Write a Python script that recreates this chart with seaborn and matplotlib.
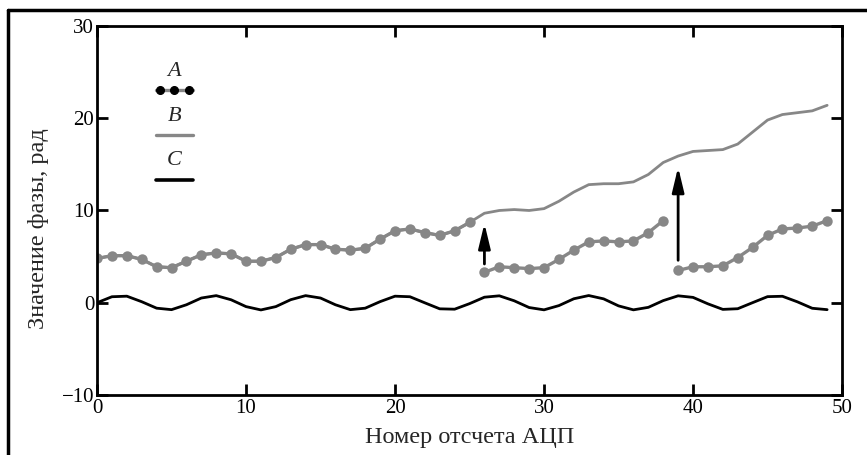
import numpy as np
import pandas as pd
import matplotlib
matplotlib.use("Agg")
import matplotlib.pyplot as plt
import seaborn as sns
from matplotlib.lines import Line2D

# ---------------- data ---------------- #
samples = list(range(50))

# A: wrapped phase (three segments with jumps at 26 and 39)
phase_a = [4.8, 5.1, 5.1, 4.7, 3.9, 3.8, 4.5, 5.2, 5.4, 5.3,
           4.5, 4.5, 4.9, 5.8, 6.3, 6.3, 5.8, 5.7, 5.9, 6.9,
           7.8, 8.0, 7.6, 7.3, 7.8, 8.7,
           3.3, 3.9, 3.8, 3.7, 3.8, 4.7, 5.7, 6.6, 6.7, 6.6,
           6.7, 7.6, 8.9,
           3.5, 3.9, 3.9, 4.0, 4.9, 6.0, 7.3, 8.0, 8.1, 8.3, 8.9]
segment_a = [0] * 26 + [1] * 13 + [2] * 11

# B: unwrapped phase
phase_b = [4.8, 5.1, 5.1, 4.7, 3.9, 3.8, 4.5, 5.2, 5.4, 5.3,
           4.5, 4.5, 4.9, 5.8, 6.3, 6.3, 5.8, 5.7, 5.9, 6.9,
           7.8, 8.0, 7.6, 7.3, 7.8, 8.7,
           9.7, 10.0, 10.1, 10.0, 10.2, 11.0, 12.0, 12.8, 12.9, 12.9,
           13.1, 13.9, 15.2,
           15.9, 16.4, 16.5, 16.6, 17.2, 18.5, 19.8, 20.4, 20.6, 20.8, 21.4]

# C: small oscillating phase
phase_c = [0.0, 0.65, 0.71, 0.11, -0.59, -0.75, -0.22, 0.51, 0.77, 0.32,
           -0.42, -0.78, -0.42, 0.33, 0.77, 0.51, -0.22, -0.75, -0.59, 0.12,
           0.71, 0.65, -0.01, -0.66, -0.70, -0.10, 0.60, 0.75, 0.21, -0.52,
           -0.77, -0.31, 0.43, 0.78, 0.42, -0.34, -0.77, -0.50, 0.23, 0.75,
           0.58, -0.12, -0.72, -0.65, 0.01, 0.66, 0.70, 0.10, -0.60, -0.75]

# arrows showing the 2*pi corrections
arrow_x = [26, 39]
arrow_from = [4.2, 4.6]
arrow_to = [8.6, 14.7]

x_ticks = [0, 10, 20, 30, 40, 50]
y_ticks = [-10, 0, 10, 20, 30]

df = pd.DataFrame({"n": samples, "A": phase_a, "seg": segment_a,
                   "B": phase_b, "C": phase_c})

# ---------------- style ---------------- #
sns.set_theme(style="ticks")
plt.rcParams["font.family"] = ["Liberation Serif", "DejaVu Serif"]

gray = "#878787"

fig = plt.figure(figsize=(8.67, 4.55), dpi=100)
ax = fig.add_axes([0.1119, 0.1319, 0.8593, 0.811])

sns.lineplot(data=df, x="n", y="C", color="black", lw=2.0, ax=ax)
sns.lineplot(data=df, x="n", y="B", color=gray, lw=2.0, ax=ax)
for s, part in df.groupby("seg"):
    sns.lineplot(data=part, x="n", y="A", color=gray, lw=2.4,
                 marker="o", markersize=7.5, markeredgewidth=0,
                 markerfacecolor=gray, ax=ax)

for x, y0, y1 in zip(arrow_x, arrow_from, arrow_to):
    ax.annotate("", xy=(x, y1), xytext=(x, y0),
                arrowprops=dict(arrowstyle="-|>,head_width=0.18,head_length=0.75",
                                color="black", lw=2.0, mutation_scale=20,
                                shrinkA=0, shrinkB=0))

# legend with the labels above the samples
lx = [0.079, 0.129]
ax.add_line(Line2D(lx, [0.827, 0.827], color=gray, lw=2.4, transform=ax.transAxes))
ax.plot([0.084, 0.104, 0.124], [0.827] * 3, "o", color="black", ms=5.5,
        transform=ax.transAxes)
ax.add_line(Line2D(lx, [0.705, 0.705], color=gray, lw=2.4, transform=ax.transAxes))
ax.add_line(Line2D(lx, [0.583, 0.583], color="black", lw=2.6, transform=ax.transAxes))
for lab, ly in zip(["A", "B", "C"], [0.877, 0.755, 0.635]):
    ax.text(0.104, ly, lab, transform=ax.transAxes, ha="center", va="center",
            fontsize=16, style="italic")

ax.set_xlim(0, 50)
ax.set_ylim(-10, 30)
ax.set_xticks(x_ticks)
ax.set_yticks(y_ticks)
ax.set_yticklabels(["\u221210", "0", "10", "20", "30"])
ax.tick_params(direction="in", length=8, width=2, labelsize=15, colors="black",
               top=True, right=True, pad=2)
ax.tick_params(axis="x", pad=3)
for sp in ax.spines.values():
    sp.set_visible(True)
    sp.set_linewidth(2)
    sp.set_color("black")

ax.set_xlabel("Номер отсчета АЦП", fontsize=17.5)
ax.set_ylabel("Значение фазы, рад", fontsize=17.5)
ax.xaxis.set_label_coords(0.5, -0.087)
ax.yaxis.set_label_coords(-0.064, 0.45)

# outer frame (top and left edges of the page box)
fig.add_artist(Line2D([0.0092, 1.0], [0.978, 0.978], color="black", lw=2.5,
                      transform=fig.transFigure))
fig.add_artist(Line2D([0.0092, 0.0092], [0.0, 0.978], color="black", lw=2.5,
                      transform=fig.transFigure))

fig.savefig("out.png", dpi=100)
